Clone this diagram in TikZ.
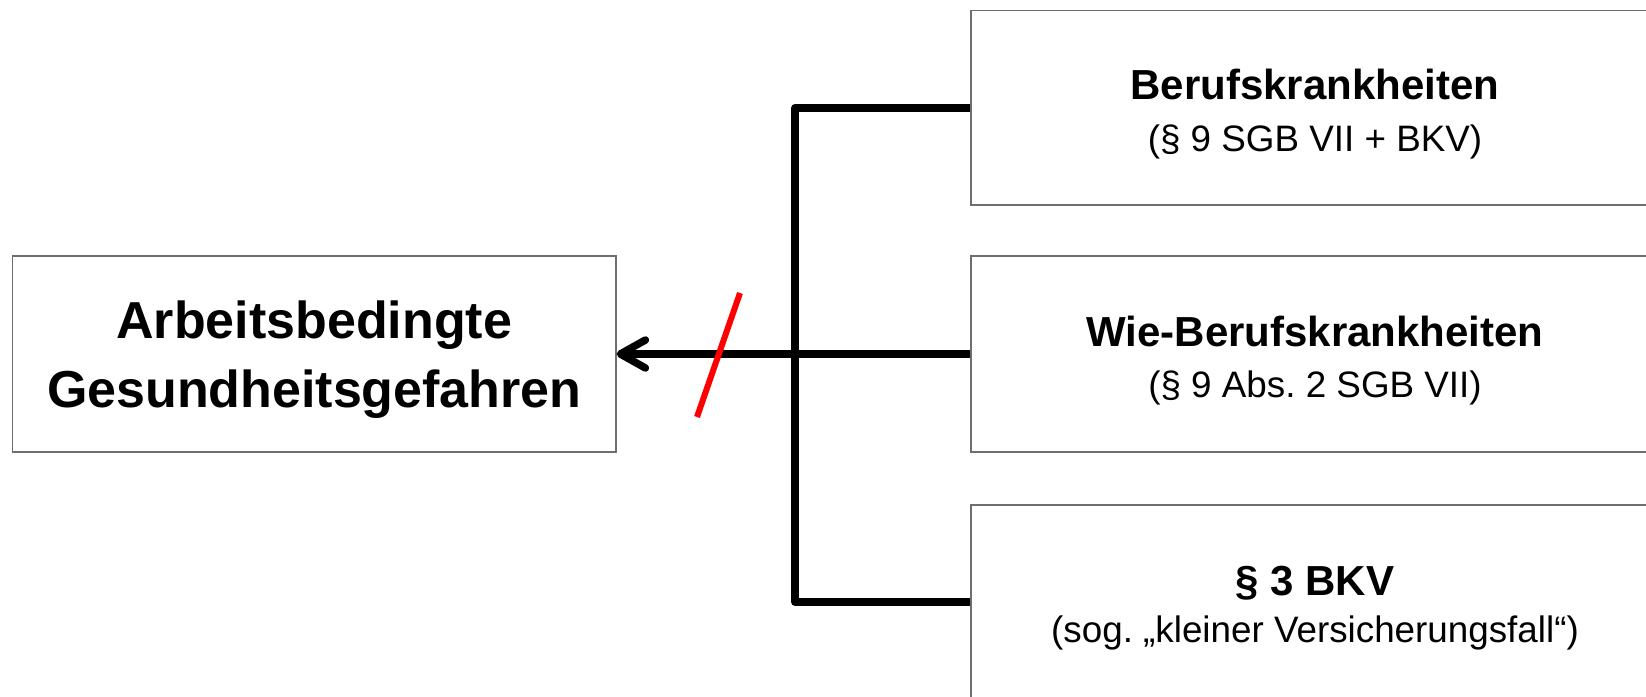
\documentclass[tikz,border=0pt]{standalone}
\usepackage{fontspec}
\setmainfont{Liberation Sans}
\usetikzlibrary{arrows.meta}
\definecolor{boxgray}{RGB}{110,110,110}
\definecolor{cutred}{RGB}{255,0,0}
\frenchspacing
\begin{document}
\begin{tikzpicture}[x=1pt,y=-1pt,
  box/.style={draw=boxgray, line width=1.3pt, fill=white, inner sep=0pt,
    minimum width=#1},
  head/.style={anchor=base, inner sep=0pt, font=\fontsize{42}{50}\selectfont\bfseries},
  sub/.style={anchor=base, inner sep=0pt, font=\fontsize{36.8}{44}\selectfont},
  big/.style={anchor=base, inner sep=0pt, font=\fontsize{52}{62}\selectfont\bfseries},
  link/.style={line width=7.5pt, line join=round},
  cut/.style={draw=cutred, line width=6pt}]
\useasboundingbox (0,0) rectangle (1646,696);
\clip (0,0) rectangle (1646,696);

% boxes
\node[box=603.4pt, minimum height=196pt] (src) at (314.3,354) {};
\node[box=688pt, minimum height=194.5pt] (bk) at (1315,107.75) {};
\node[box=688pt, minimum height=196pt] (wbk) at (1315,354) {};
\node[box=688pt, minimum height=194pt] (bkv) at (1315,602) {};

% box texts
\node[big] (src1) at (314.3,338) {Arbeitsbedingte};
\node[big] (src2) at (314.3,407) {Gesundheitsgefahren};
\node[head] (bk1) at (1315,99) {Berufskrankheiten};
\node[sub] (bk2) at (1315,151) {(§ 9 SGB VII + BKV)};
\node[head] (wbk1) at (1315,346.5) {Wie-Berufskrankheiten};
\node[sub] (wbk2) at (1315,397) {(§ 9 Abs. 2 SGB VII)};
\node[head] (bkv1) at (1315,595) {§ 3 BKV};
\node[sub] (bkv2) at (1315,642) {(sog. „kleiner Versicherungsfall“)};

% bracket joining the three cases
\coordinate (bus) at (795,0);
\draw[link] (bk.west) -- (bk.west -| bus) -- (bkv.west -| bus) -- (bkv.west);
\draw[link, -{Straight Barb[length=25pt, width=28pt, line cap=round, line join=round]}]
  (wbk.west) -- (src.east);

% red strike through the arrow
\coordinate (cutA) at (740,293);
\coordinate (cutB) at (697,417);
\draw[cut] (cutA) -- (cutB);
\end{tikzpicture}
\end{document}
